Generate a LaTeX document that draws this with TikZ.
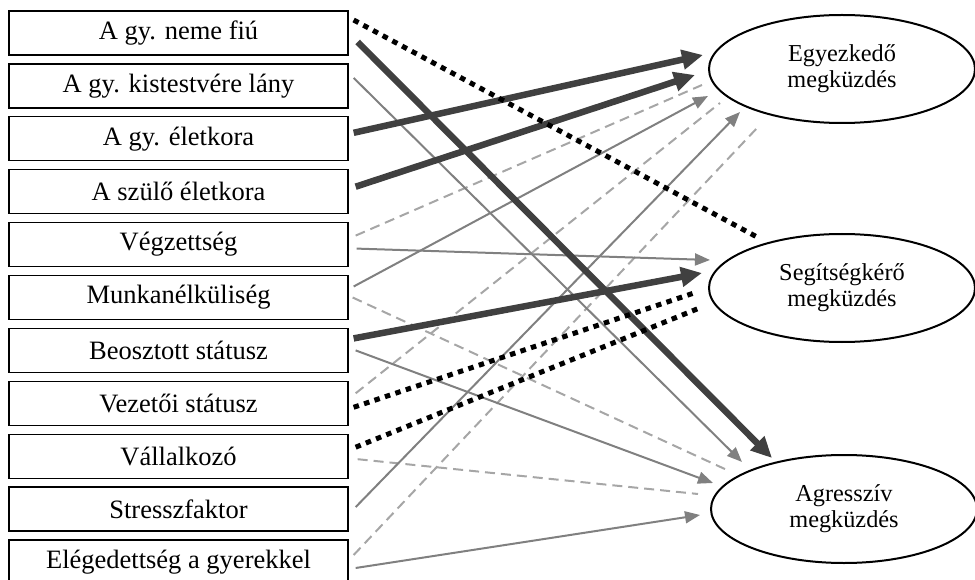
\documentclass[tikz,border=0pt]{standalone}
\usepackage{fontspec}
\setmainfont{Liberation Serif}
\usetikzlibrary{arrows.meta,calc,shapes.geometric}
\definecolor{darkarrow}{RGB}{64,64,64}
\definecolor{midarrow}{RGB}{128,128,128}
\definecolor{lightdash}{RGB}{166,166,166}
\begin{document}
\begin{tikzpicture}[x=1pt,y=-1pt,
  varbox/.style={draw=black, line width=1.3pt, minimum width=339pt, minimum height=44pt, inner sep=0pt, font=\fontsize{26.5}{28}\selectfont},
  outcome/.style={ellipse, draw=black, line width=2pt, minimum width=266pt, minimum height=108pt, inner sep=0pt, align=center, font=\fontsize{24.3}{26}\selectfont},
  strong/.style={draw=darkarrow, line width=6.5pt, -{Triangle[length=21pt,width=19pt]}},
  weak/.style={draw=midarrow, line width=2pt, -{Triangle[length=15pt,width=12pt]}},
  weakdash/.style={draw=lightdash, line width=2pt, dash pattern=on 10pt off 6pt},
  negdot/.style={draw=black, line width=5pt, dash pattern=on 5.5pt off 5.5pt},
]
\useasboundingbox (0,0) rectangle (975,580);
\clip (0,0) rectangle (975,580);

\node[varbox] (b1) at (178.5,33) {A gy. neme fiú};
\node[varbox] (b2) at (178.5,85.9) {A gy. kistestvére lány};
\node[varbox] (b3) at (178.5,138.8) {A gy. életkora};
\node[varbox] (b4) at (178.5,191.7) {A szülő életkora};
\node[varbox] (b5) at (178.5,244.6) {Végzettség};
\node[varbox] (b6) at (178.5,297.5) {Munkanélküliség};
\node[varbox] (b7) at (178.5,350.4) {Beosztott státusz};
\node[varbox] (b8) at (178.5,403.3) {Vezetői státusz};
\node[varbox] (b9) at (178.5,456.2) {Vállalkozó};
\node[varbox] (b10) at (178.5,509.1) {Stresszfaktor};
\node[varbox] (b11) at (178.5,562) {Elégedettség a gyerekkel};

\node[outcome] (e1) at (842,69) {Egyezkedő\\megküzdés};
\node[outcome] (e2) at (842,288) {Segítségkérő\\megküzdés};
\node[outcome] (e3) at (844,509) {Agresszív\\megküzdés};

% dashed light lines
\draw[weakdash] ($(b5.east)+(7,-9)$) -- ($(e1.center)+(-140,16)$);
\draw[weakdash] ($(b8.east)+(7,-10)$) -- ($(e1.center)+(-122,34)$);
\draw[weakdash] ($(b11.east)+(5,-7)$) -- ($(e1.center)+(-84,58)$);
\draw[weakdash] ($(b6.east)+(4,0)$) -- ($(e3.center)+(-117,-39)$);
\draw[weakdash] ($(b9.east)+(9,3)$) -- ($(e3.center)+(-146,-15)$);

% thin gray arrows
\draw[weak] ($(b6.east)+(5,-11)$) -- ($(e1.center)+(-134,27)$);
\draw[weak] ($(b10.east)+(7,-2)$) -- ($(e1.center)+(-102,43)$);
\draw[weak] ($(b5.east)+(8,4)$) -- ($(e2.center)+(-132,-28)$);
\draw[weak] ($(b2.east)+(5,-8)$) -- ($(e3.center)+(-102,-47)$);
\draw[weak] ($(b7.east)+(7,0)$) -- ($(e3.center)+(-131,-26)$);
\draw[weak] ($(b11.east)+(7,6)$) -- ($(e3.center)+(-144,6)$);

% thick dark arrows
\draw[strong] ($(b3.east)+(5,-6)$) -- ($(e1.center)+(-139,-14)$);
\draw[strong] ($(b4.east)+(7,-5)$) -- ($(e1.center)+(-147,6)$);
\draw[strong] ($(b7.east)+(5,-12)$) -- ($(e2.center)+(-140,-15)$);
\draw[strong] ($(b1.east)+(9,9)$) -- ($(e3.center)+(-72,-51)$);

% dotted black lines
\draw[negdot] ($(b1.east)+(5,-13)$) -- ($(e2.center)+(-85,-51)$);
\draw[negdot] ($(b8.east)+(5,4)$) -- ($(e2.center)+(-145,4)$);
\draw[negdot] ($(b9.east)+(7,-9)$) -- ($(e2.center)+(-140,19)$);
\end{tikzpicture}
\end{document}
